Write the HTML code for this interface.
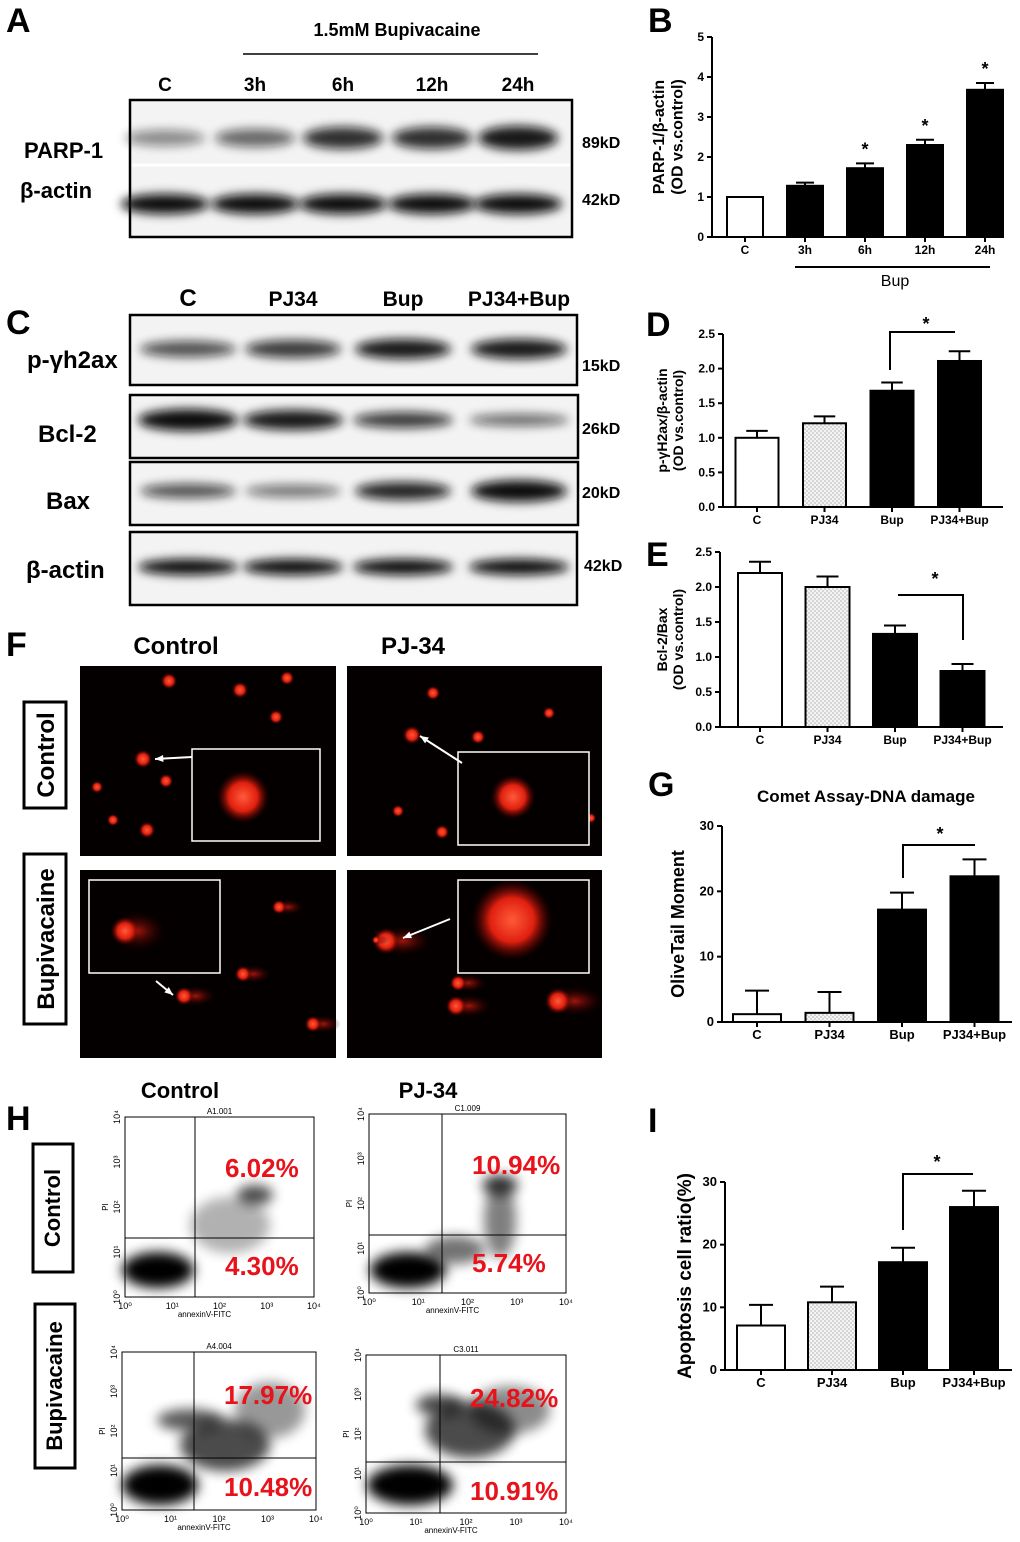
<!DOCTYPE html>
<html><head><meta charset="utf-8"><style>
body{margin:0;background:#fff}
svg{display:block;font-family:"Liberation Sans",Arial,sans-serif}
</style></head><body>
<svg id="fig" width="1020" height="1542" viewBox="0 0 1020 1542">
<defs>
<filter id="bl" x="-50%" y="-100%" width="200%" height="300%"><feGaussianBlur stdDeviation="5"/></filter>
<filter id="bl2" x="-50%" y="-50%" width="200%" height="200%"><feGaussianBlur stdDeviation="6"/></filter>
<radialGradient id="cell"><stop offset="0" stop-color="#ff5a3a"/><stop offset="0.55" stop-color="#e0200f"/><stop offset="1" stop-color="#600" stop-opacity="0"/></radialGradient>
<radialGradient id="tail"><stop offset="0" stop-color="#c81a10" stop-opacity="0.8"/><stop offset="1" stop-color="#300" stop-opacity="0"/></radialGradient>
<pattern id="dots" width="4" height="4" patternUnits="userSpaceOnUse"><rect width="4" height="4" fill="#f4f4f4"/><circle cx="1" cy="1" r="0.6" fill="#888"/><circle cx="3" cy="3" r="0.6" fill="#888"/></pattern>
</defs>
<g id="root" font-weight="bold"></g>
</svg>
<script>
// ---- chart data ----
const bCats=["C","3h","6h","12h","24h"];
const bVals=[1.0,1.28,1.72,2.3,3.68];
const bErr=[0,0.08,0.12,0.13,0.17];
const dCats=["C","PJ34","Bup","PJ34+Bup"];
const dVals=[1.0,1.21,1.68,2.11];
const dErr=[0.1,0.1,0.12,0.14];
const eVals=[2.2,2.0,1.33,0.8];
const eErr=[0.16,0.15,0.12,0.1];
const gVals=[1.2,1.4,17.2,22.3];
const gErr=[3.6,3.2,2.6,2.6];
const iVals=[7.1,10.8,17.2,26.0];
const iErr=[3.3,2.5,2.3,2.6];
const flowUR=["6.02%","10.94%","17.97%","24.82%"];
const flowLR=["4.30%","5.74%","10.48%","10.91%"];

const NS="http://www.w3.org/2000/svg";
const root=document.getElementById('root');
function el(tag,attrs,parent,name,txt){const e=document.createElementNS(NS,tag);for(const k in attrs)e.setAttribute(k,attrs[k]);


if(txt!==undefined)e.textContent=txt;(parent||root).appendChild(e);return e;}
function txt(x,y,s,size,name,opt){opt=opt||{};return el('text',Object.assign({x:x,y:y,'font-size':size,'text-anchor':opt.a||'start',fill:opt.fill||'#000','font-weight':opt.w||'bold'},opt.extra||{}),opt.p,name,s);}

[["A",6,32],["B",648,32],["C",6,334],["D",646,336],["E",646,566],["F",6,656],["G",648,796],["H",6,1130],["I",648,1132]].forEach(l=>txt(l[1],l[2],l[0],34,'panel-label-'+l[0].toLowerCase()));

function barChart(o){
  const g=el('g',{},root,o.name);
  const y=v=>o.y0-(v-o.min)/(o.max-o.min)*(o.y0-o.y1);
  el('line',{x1:o.ax,y1:o.y1,x2:o.ax,y2:o.y0,stroke:'#000','stroke-width':2},g,'y-axis');
  el('line',{x1:o.ax,y1:o.y0,x2:o.axEnd,y2:o.y0,stroke:'#000','stroke-width':2},g,'x-axis');
  o.ticks.forEach(t=>{el('line',{x1:o.ax-5,y1:y(t),x2:o.ax,y2:y(t),stroke:'#000','stroke-width':2},g,'y-tick');
    txt(o.ax-8,y(t)+4,o.fmt(t),o.tf||12,'y-tick-label',{a:'end',p:g});});
  o.vals.forEach((v,i)=>{const cx=o.cx0+i*o.step;
    const fill=o.fills[i];
    if(o.err[i]>0){el('line',{x1:cx,y1:y(v),x2:cx,y2:y(v+o.err[i]),stroke:'#000','stroke-width':2},g,'error-bar');
      el('line',{x1:cx-o.bw/4,y1:y(v+o.err[i]),x2:cx+o.bw/4,y2:y(v+o.err[i]),stroke:'#000','stroke-width':2},g,'error-cap');}
    el('rect',{x:cx-o.bw/2,y:y(v),width:o.bw,height:o.y0-y(v),fill:fill,stroke:'#000','stroke-width':2},g,'bar-'+o.cats[i].toLowerCase().replace(/\W/g,''));
    txt(cx,o.y0+17,o.cats[i],o.cf||12,'x-tick-label',{a:'middle',p:g});
    el('line',{x1:cx,y1:o.y0,x2:cx,y2:o.y0+5,stroke:'#000','stroke-width':2},g,'x-tick');
  });
  const ty=(o.y0+o.y1)/2;
  o.title.forEach((t,k)=>txt(0,0,t,o.tsz||15,'y-axis-title',{a:'middle',p:g,extra:{transform:`translate(${o.tx+k*o.tsz*1.15},${ty}) rotate(-90)`}}));
  g.y=y;return g;
}
const f2=v=>v.toFixed(1);
const gB=barChart({name:'chart-b',ax:712,axEnd:1002,y0:237,y1:37,min:0,max:5,ticks:[0,1,2,3,4,5],fmt:v=>String(v),vals:bVals,err:bErr,cats:bCats,cx0:745,step:60,bw:36,fills:['#fff','#000','#000','#000','#000'],title:['PARP-1/β-actin','(OD vs.control)'],tx:664,tsz:16});
bVals.forEach((v,i)=>{if(i>=2)txt(745+i*60,gB.y(v+bErr[i])-8,'*',18,'significance-star',{a:'middle'});});
el('line',{x1:795,y1:267,x2:990,y2:267,stroke:'#000','stroke-width':2},root,'bup-bracket');
txt(895,286,'Bup',16,'bup-group-label',{a:'middle',w:'normal'});
barChart({name:'chart-d',ax:723,axEnd:1003,y0:507,y1:334,min:0,max:2.5,ticks:[0,0.5,1,1.5,2,2.5],fmt:f2,vals:dVals,err:dErr,cats:dCats,cx0:757,step:67.5,bw:43,fills:['#fff','url(#dots)','#000','#000'],title:['p-γH2ax/β-actin','(OD vs.control)'],tx:667,tsz:14});
el('polyline',{points:'890,370 890,332 955,332',fill:'none',stroke:'#000','stroke-width':2},root,'significance-bracket-d');
txt(926,330,'*',18,'significance-star-d',{a:'middle'});
barChart({name:'chart-e',ax:720,axEnd:1003,y0:727,y1:552,min:0,max:2.5,ticks:[0,0.5,1,1.5,2,2.5],fmt:f2,vals:eVals,err:eErr,cats:dCats,cx0:760,step:67.5,bw:44,fills:['#fff','url(#dots)','#000','#000'],title:['Bcl-2/Bax','(OD vs.control)'],tx:667,tsz:14});
el('polyline',{points:'898,595 963,595 963,640',fill:'none',stroke:'#000','stroke-width':2},root,'significance-bracket-e');
txt(935,585,'*',18,'significance-star-e',{a:'middle'});
txt(866,802,'Comet Assay-DNA damage',17,'chart-g-title',{a:'middle'});
barChart({name:'chart-g',ax:722,axEnd:1012,y0:1022,y1:826,min:0,max:30,ticks:[0,10,20,30],fmt:v=>String(v),vals:gVals,err:gErr,cats:dCats,cx0:757,step:72.5,bw:48,fills:['#fff','url(#dots)','#000','#000'],title:['OliveTail Moment'],tx:684,tsz:18,tf:13,cf:13});
el('polyline',{points:'903,878 903,845 975,845',fill:'none',stroke:'#000','stroke-width':2},root,'significance-bracket-g');
txt(940,840,'*',18,'significance-star-g',{a:'middle'});
barChart({name:'chart-i',ax:725,axEnd:1012,y0:1370,y1:1182,min:0,max:30,ticks:[0,10,20,30],fmt:v=>String(v),vals:iVals,err:iErr,cats:dCats,cx0:761,step:71,bw:48,fills:['#fff','url(#dots)','#000','#000'],title:['Apoptosis cell ratio(%)'],tx:691,tsz:19,tf:13,cf:13});
el('polyline',{points:'903,1230 903,1174 973,1174',fill:'none',stroke:'#000','stroke-width':2},root,'significance-bracket-i');
txt(937,1168,'*',18,'significance-star-i',{a:'middle'});

function blot(x,y,w,h,lanes,bands,name){const g=el('g',{},root,name);
  el('rect',{x:x,y:y,width:w,height:h,fill:'#f3f3f3',stroke:'#000','stroke-width':2.5},g,'blot-frame');
  bands.forEach(b=>lanes.forEach((lx,i)=>el('ellipse',{cx:lx,cy:b.y,rx:b.rx,ry:b.ry*b.s[i],fill:'#111',opacity:b.o[i],filter:'url(#bl)'},g,'band')));
  return g;}
const laneA=[165,255,343,432,518];
blot(130,100,442,137,laneA,[{y:138,rx:40,ry:10,s:[0.8,0.9,1.1,1.1,1.2],o:[0.45,0.6,0.85,0.85,0.95]},{y:204,rx:44,ry:10,s:[1,1,1,1,1],o:[1,1,1,1,1]}],'blot-a');
el('line',{x1:132,y1:165,x2:570,y2:165,stroke:'#fff','stroke-width':3},root,'blot-divider');
txt(397,36,'1.5mM Bupivacaine',18,'bupivacaine-header',{a:'middle'});
el('line',{x1:243,y1:54,x2:538,y2:54,stroke:'#000','stroke-width':1.5},root,'header-line');
['C','3h','6h','12h','24h'].forEach((s,i)=>txt(laneA[i],91,s,19,'lane-label',{a:'middle'}));
txt(24,158,'PARP-1',22,'parp1-label');txt(20,198,'β-actin',22,'bactin-label-a');
txt(582,148,'89kD',16,'mw-89');txt(582,205,'42kD',16,'mw-42a');
const laneC=[188,293,403,519];
blot(130,315,447,70,laneC,[{y:349,rx:48,ry:9,s:[0.9,1,1.1,1.1],o:[0.7,0.8,0.95,0.95]}],'blot-pyh2ax');
blot(130,395,448,63,laneC,[{y:420,rx:50,ry:10,s:[1.1,1,0.8,0.6],o:[1,0.95,0.8,0.6]}],'blot-bcl2');
blot(130,462,448,63,laneC,[{y:491,rx:48,ry:9,s:[0.8,0.7,1,1.2],o:[0.7,0.55,0.9,1]}],'blot-bax');
blot(130,532,447,73,laneC,[{y:567,rx:50,ry:8,s:[1,1,1,1],o:[1,1,1,1]}],'blot-bactin-c');
['C','PJ34','Bup','PJ34+Bup'].forEach((s,i)=>txt([188,293,403,519][i],306,s,i==0?24:21,'lane-label-c',{a:'middle'}));
txt(27,368,'p-γh2ax',24,'pyh2ax-label');txt(38,442,'Bcl-2',24,'bcl2-label');txt(46,509,'Bax',24,'bax-label');txt(26,578,'β-actin',24,'bactin-label-c');
txt(582,371,'15kD',16,'mw-15');txt(582,434,'26kD',16,'mw-26');txt(582,498,'20kD',16,'mw-20');txt(584,571,'42kD',16,'mw-42c');

txt(176,654,'Control',24,'col-control-f',{a:'middle'});txt(413,654,'PJ-34',24,'col-pj34-f',{a:'middle'});
function fimg(x,y,w,h,name,cells,box,inset,arrow){const g=el('g',{},root,name);
  el('rect',{x:x,y:y,width:w,height:h,fill:'#050000'},g,'image-bg');
  cells.forEach(c=>{if(c[3])el('ellipse',{cx:c[0]+c[2]*1.3,cy:c[1],rx:c[2]*2.2,ry:c[2]*1.1,fill:'url(#tail)'},g,'comet-tail');
    el('circle',{cx:c[0],cy:c[1],r:c[2],fill:'url(#cell)'},g,'cell');});
  el('rect',{x:box[0],y:box[1],width:box[2],height:box[3],fill:'#050000',stroke:'#fff','stroke-width':1.5},g,'inset-box');
  if(inset[3])el('ellipse',{cx:inset[0]+inset[2]*0.9,cy:inset[1],rx:inset[2]*2,ry:inset[2]*1.4,fill:'url(#tail)'},g,'inset-tail');
  el('circle',{cx:inset[0],cy:inset[1],r:inset[2],fill:'url(#cell)'},g,'inset-cell');
  el('line',{x1:arrow[0],y1:arrow[1],x2:arrow[2],y2:arrow[3],stroke:'#fff','stroke-width':2},g,'arrow');
  const a=Math.atan2(arrow[3]-arrow[1],arrow[2]-arrow[0]);
  el('polygon',{points:`${arrow[2]},${arrow[3]} ${arrow[2]-9*Math.cos(a-0.4)},${arrow[3]-9*Math.sin(a-0.4)} ${arrow[2]-9*Math.cos(a+0.4)},${arrow[3]-9*Math.sin(a+0.4)}`,fill:'#fff'},g,'arrow-head');
}
fimg(80,666,256,190,'image-control-control',[[169,681,8],[240,690,8],[287,678,7],[276,717,7],[143,759,9],[97,787,6],[166,781,7],[113,820,6],[147,830,8]],[192,749,128,92],[243,797,26,false],[192,757,155,759]);
fimg(347,666,255,190,'image-pj34-control',[[433,693,7],[478,737,7],[412,735,9],[398,811,6],[549,713,6],[576,760,6],[442,832,7],[591,818,5]],[458,752,131,93],[513,797,22,false],[462,763,420,736]);
fimg(80,870,256,188,'image-control-bup',[[184,996,9,true],[243,974,8,true],[279,907,7,true],[313,1024,8,true]],[89,880,131,93],[125,931,14,true],[156,981,173,995]);
fimg(347,870,255,188,'image-pj34-bup',[[386,941,13,true],[458,983,8,true],[456,1006,10,true],[558,1001,13,true],[376,940,4,true]],[458,880,131,93],[512,920,40,false],[450,919,403,938]);
[[45,755,'Control',106],[45,939,'Bupivacaine',170]].forEach((r,k)=>{el('rect',{x:24,y:r[1]-r[3]/2,width:42,height:r[3],fill:'none',stroke:'#000','stroke-width':3},root,'row-label-box');
  txt(0,0,r[2],24,'row-label',{a:'middle',extra:{transform:`translate(${r[0]+9},${r[1]}) rotate(-90)`}});});

txt(180,1098,'Control',22,'col-control-h',{a:'middle'});txt(428,1098,'PJ-34',22,'col-pj34-h',{a:'middle'});
const flows=[[125,1117,189,180,195,1238,'A1.001'],[369,1114,197,179,442,1235,'C1.009'],[122,1352,194,158,194,1458,'A4.004'],[366,1355,200,158,440,1462,'C3.011']];
const clouds=[[[158,1270,36,18,1],[255,1195,18,10,0.7],[230,1225,40,28,0.3]],
 [[408,1270,38,18,1],[500,1185,18,10,0.75],[500,1220,16,38,0.5],[455,1250,30,14,0.55]],
 [[160,1485,38,20,1],[225,1445,45,26,0.7],[190,1420,33,11,0.65],[270,1410,35,28,0.4]],
 [[410,1485,43,20,1],[470,1430,45,28,0.7],[440,1405,24,11,0.7],[510,1410,40,24,0.45]]];
flows.forEach((f,k)=>{const g=el('g',{},root,'flow-plot-'+(k+1));
  el('rect',{x:f[0],y:f[1],width:f[2],height:f[3],fill:'#fff',stroke:'#000','stroke-width':1},g,'plot-frame');
  clouds[k].forEach(c=>el('ellipse',{cx:c[0],cy:c[1],rx:c[2],ry:c[3],fill:'#000',opacity:c[4],filter:'url(#bl2)'},g,'event-cloud'));
  el('line',{x1:f[4],y1:f[1],x2:f[4],y2:f[1]+f[3],stroke:'#000','stroke-width':1},g,'quadrant-v');
  el('line',{x1:f[0],y1:f[5],x2:f[0]+f[2],y2:f[5],stroke:'#000','stroke-width':1},g,'quadrant-h');
  txt(f[0]+f[2]/2,f[1]-3,f[6],8,'plot-title',{a:'middle',p:g,w:'normal'});
  ['10⁰','10¹','10²','10³','10⁴'].forEach((s,i)=>{txt(f[0]+i*f[2]/4,f[1]+f[3]+12,s,9,'x-tick-label',{a:'middle',p:g,w:'normal'});
    txt(0,0,s,9,'y-tick-label',{a:'middle',p:g,w:'normal',extra:{transform:`translate(${f[0]-5},${f[1]+f[3]-i*f[3]/4}) rotate(-90)`}});});
  txt(f[0]+f[2]/2-15,f[1]+f[3]+20,'annexinV-FITC',8,'x-axis-title',{a:'middle',p:g,w:'normal'});
  txt(0,0,'PI',8,'y-axis-title',{a:'middle',p:g,w:'normal',extra:{transform:`translate(${f[0]-17},${f[1]+f[3]/2}) rotate(-90)`}});
  txt(f[4]+30,f[1]+(k<2?60:52),flowUR[k],26,'percent-upper-right',{p:g,fill:'#e8121b'});
  txt(f[4]+30,f[5]+(k<2?37:38),flowLR[k],26,'percent-lower-right',{p:g,fill:'#e8121b'});
});
[[52,1208,'Control',128],[54,1386,'Bupivacaine',164]].forEach(r=>{el('rect',{x:r[0]-19,y:r[1]-r[3]/2,width:40,height:r[3],fill:'none',stroke:'#000','stroke-width':3},root,'row-label-box-h');
  txt(0,0,r[2],22,'row-label-h',{a:'middle',extra:{transform:`translate(${r[0]+8},${r[1]}) rotate(-90)`}});});
</script>
</body></html>
